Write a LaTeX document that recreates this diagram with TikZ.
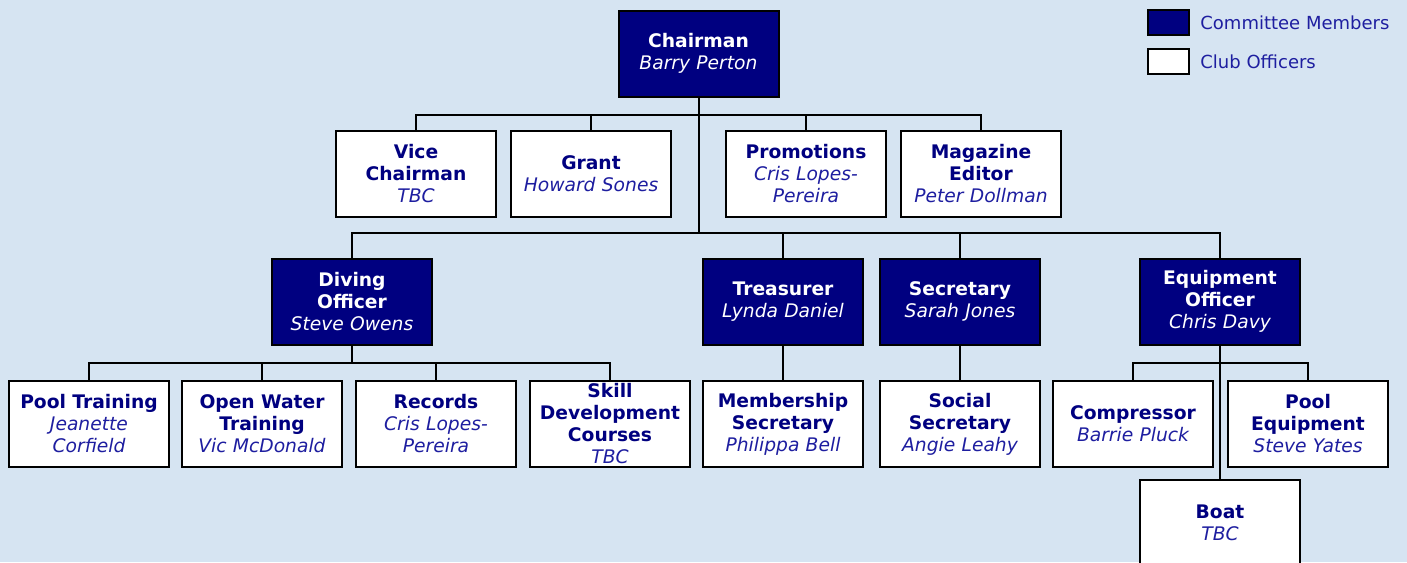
\documentclass[tikz,border=0pt]{standalone}
\usepackage{fontspec}
\setmainfont{DejaVu Sans}
\usetikzlibrary{positioning}
\definecolor{navy}{HTML}{000080}
\definecolor{nameblue}{HTML}{1E1EA0}
\definecolor{sky}{HTML}{D6E4F2}
\tikzset{
  member/.style={draw=black, line width=1pt, fill=navy, text=white,
    minimum width=80pt, minimum height=43pt, inner sep=0pt,
    text width=79pt, align=center,
    font=\fontsize{9.35}{11}\selectfont,
    execute at begin node=\colorlet{namecol}{white}},
  officer/.style={member, fill=white, text=navy,
    execute at begin node=\colorlet{namecol}{nameblue}},
  link/.style={line width=1pt},
  key/.style={draw=black, line width=1pt, minimum width=20.5pt,
    minimum height=12.5pt, inner sep=0pt},
  keytext/.style={inner sep=0pt, text=nameblue, font=\fontsize{9}{11}\selectfont},
}
\newcommand\post[2]{{\bfseries #1}\\\textcolor{namecol}{\itshape #2}}

\begin{document}
\begin{tikzpicture}[x=0.5pt, y=-0.5pt]
\useasboundingbox (0,0) rectangle (1407,562);
\clip (0,0) rectangle (1407,562);
\fill[sky] (0,0) rectangle (1407,562);

% top
\node[member] (chair) at (698.5,53.5) {\post{Chairman}{Barry Perton}};

% second row
\node[officer] (vice)  at (416,174) {\post{Vice\\Chairman}{TBC}};
\node[officer] (grant) at (591,174) {\post{Grant}{Howard Sones}};
\node[officer] (promo) at (806,174) {\post{Promotions}{Cris Lopes-\\Pereira}};
\node[officer] (mag)   at (981,174) {\post{Magazine\\Editor}{Peter Dollman}};

% committee
\node[member] (dive)  at (352,301.5)  {\post{Diving\\Officer}{Steve Owens}};
\node[member] (treas) at (783,301.5)  {\post{Treasurer}{Lynda Daniel}};
\node[member] (secr)  at (960,301.5)  {\post{Secretary}{Sarah Jones}};
\node[member] (equip) at (1220,301.5) {\post{Equipment\\Officer}{Chris Davy}};

% officers
\node[officer] (pool)   at (89,424)   {\post{Pool Training}{Jeanette\\Corfield}};
\node[officer] (open)   at (262,424)  {\post{Open Water\\Training}{Vic McDonald}};
\node[officer] (rec)    at (436,424)  {\post{Records}{Cris Lopes-\\Pereira}};
\node[officer] (skill)  at (610,424)  {\post{Skill\\Development\\Courses}{TBC}};
\node[officer] (memb)   at (783,424)  {\post{Membership\\Secretary}{Philippa Bell}};
\node[officer] (social) at (960,424)  {\post{Social\\Secretary}{Angie Leahy}};
\node[officer] (comp)   at (1133,424) {\post{Compressor}{Barrie Pluck}};
\node[officer] (pequip) at (1308,424) {\post{Pool\\Equipment}{Steve Yates}};
\node[officer] (boat)   at (1220,523) {\post{Boat}{TBC}};

% buses
\coordinate (top bus)   at (698.5,115);
\coordinate (mid bus)   at (698.5,233);
\coordinate (dive bus)  at (352,363);
\coordinate (equip bus) at (1220,363);

\draw[link] (chair) -- (mid bus);
\draw[link] (vice.north) |- (top bus) -| (mag.north);
\draw[link] (grant.north) -- (grant |- top bus);
\draw[link] (promo.north) -- (promo |- top bus);

\draw[link] (dive.north) |- (mid bus) -| (equip.north);
\draw[link] (treas.north) -- (treas |- mid bus);
\draw[link] (secr.north) -- (secr |- mid bus);

\draw[link] (dive) -- (dive bus);
\draw[link] (pool.north) |- (dive bus) -| (skill.north);
\draw[link] (open.north) -- (open |- dive bus);
\draw[link] (rec.north) -- (rec |- dive bus);
\draw[link] (treas) -- (memb);
\draw[link] (secr) -- (social);
\draw[link] (equip) -- (boat);
\draw[link] (comp.north) |- (equip bus) -| (pequip.north);

% legend
\node[key, fill=navy]  (keymember)  at (1168.5,22.5) {};
\node[key, fill=white] (keyofficer) at (1168.5,61.5) {};
\node[keytext, right=5pt of keymember]  (membertext)  {Committee Members};
\node[keytext, right=5pt of keyofficer] (officertext) {Club Officers};
\end{tikzpicture}
\end{document}
